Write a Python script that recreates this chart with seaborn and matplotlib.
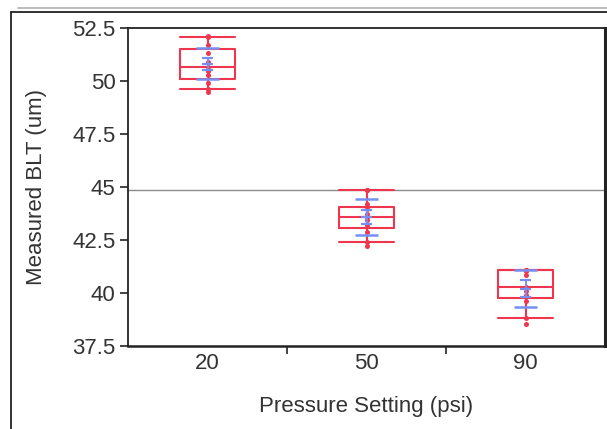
import numpy as np
import pandas as pd
import seaborn as sns
import matplotlib
matplotlib.use("Agg")
import matplotlib.pyplot as plt
from matplotlib.lines import Line2D

# ---- data ----
pressure = ["20", "50", "90"]
blt_20 = [49.50, 49.60, 49.90, 50.26, 50.45, 50.65, 50.90, 51.30, 51.68, 52.09, 52.10]
blt_50 = [42.22, 42.42, 42.90, 43.20, 43.45, 43.60, 43.75, 43.95, 44.19, 44.86, 44.86]
blt_90 = [38.52, 38.81, 39.60, 39.90, 40.10, 40.27, 40.85, 41.06, 41.10, 41.10, 41.10]
group_means = [50.81, 43.58, 40.21]
group_sds = [0.73, 0.85, 0.87]
group_ses = [0.28, 0.34, 0.39]
grand_mean = 44.86
y_ticks = [37.5, 40, 42.5, 45, 47.5, 50, 52.5]
y_tick_labels = ["37.5", "40", "42.5", "45", "47.5", "50", "52.5"]

df = pd.DataFrame({
    "Pressure": [pressure[0]] * len(blt_20) + [pressure[1]] * len(blt_50) + [pressure[2]] * len(blt_90),
    "BLT": blt_20 + blt_50 + blt_90,
})

RED = "#f0354f"
BLUE = "#7590f2"
TXT = "#333333"

sns.set_style("white")
plt.rcParams["font.family"] = ["Liberation Sans", "DejaVu Sans"]

fig = plt.figure(figsize=(6.07, 4.29), dpi=100)
ax = fig.add_axes([128 / 607, 1 - 346 / 429, (605 - 128) / 607, (346 - 28) / 429])

# grand mean line
ax.axhline(grand_mean, color="#8a8a8a", lw=1.0, zorder=1)

sns.boxplot(data=df, x="Pressure", y="BLT", order=pressure, whis=(10, 90),
            fill=False, color=RED, linecolor=RED, linewidth=1.5, width=0.34,
            showfliers=False, capwidths=0.34, ax=ax, zorder=3)

sns.stripplot(data=df, x="Pressure", y="BLT", order=pressure, jitter=False,
              color=RED, size=3.6, marker="o", linewidth=0, ax=ax, zorder=4)

# mean error bars and std dev lines (blue)
for i, (m, s, se) in enumerate(zip(group_means, group_sds, group_ses)):
    ax.vlines(i, m - se, m + se, color=BLUE, lw=1.4, zorder=5)
    ax.hlines([m - s, m + s], i - 0.072, i + 0.072, color=BLUE, lw=1.8, zorder=5)
    ax.hlines([m - se, m, m + se], i - 0.035, i + 0.035, color=BLUE, lw=1.6, zorder=5)

ax.set_xlim(-0.5, 2.5)
ax.set_ylim(37.5, 52.5)
ax.set_yticks(y_ticks)
ax.set_yticklabels(y_tick_labels)
ax.set_xticks(range(len(pressure)))
ax.set_xticklabels(pressure)
ax.set_xticks([0.5, 1.5], minor=True)

ax.tick_params(axis="y", which="major", direction="out", length=6, width=1.2,
               color="#222222", labelsize=16, labelcolor=TXT, pad=3, left=True)
ax.tick_params(axis="x", which="major", length=0, labelsize=16, labelcolor=TXT, pad=5)
ax.tick_params(axis="x", which="minor", direction="out", length=6, width=1.2,
               color="#222222", bottom=True)

ax.set_xlabel("Pressure Setting (psi)", fontsize=16, color=TXT, labelpad=16)
ax.set_ylabel("Measured BLT (um)", fontsize=16, color=TXT, labelpad=18)

for sp in ax.spines.values():
    sp.set_visible(True)
    sp.set_color("#222222")
    sp.set_linewidth(1.3)
ax.spines["right"].set_linewidth(2.2)
ax.spines["bottom"].set_linewidth(1.8)

# outer report frame
fig.add_artist(Line2D([11 / 607, 11 / 607], [0, 1 - 12 / 429], color="#222222", lw=1.3,
                      transform=fig.transFigure))
fig.add_artist(Line2D([11 / 607, 1], [1 - 12 / 429, 1 - 12 / 429], color="#222222", lw=1.3,
                      transform=fig.transFigure))
fig.add_artist(Line2D([18 / 607, 1], [1 - 8 / 429, 1 - 8 / 429], color="#b0b0b0", lw=1.2,
                      transform=fig.transFigure))

fig.savefig("out.png", dpi=100)
